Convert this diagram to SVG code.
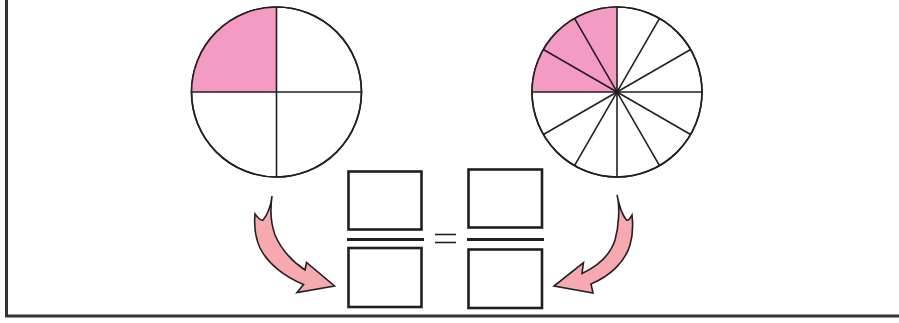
<svg xmlns="http://www.w3.org/2000/svg" width="899" height="323" viewBox="0 0 899 323">
<style>
.c{fill:#fff;stroke:#231f20;stroke-width:1.6}
.p{fill:#f49bc3;stroke:none}
.l{stroke:#231f20;stroke-width:1.6;fill:none}
.b{fill:#fff;stroke:#231f20;stroke-width:2.6}
.f{stroke:#231f20;stroke-width:3}
.e{stroke:#231f20;stroke-width:1.6}
.a{fill:#f6a9ae;stroke:#231f20;stroke-width:1.6;stroke-linejoin:miter}
</style>
<rect width="899" height="323" fill="#fff"/>
<path d="M6.5,0 V316 H899" fill="none" stroke="#333" stroke-width="3"/>
<g id="circle-quarters">
<circle class="c" cx="276.5" cy="92" r="85"/>
<path class="p" d="M276.5,92 H191.5 A85,85 0 0 1 276.5,7 Z"/>
<line class="l" x1="191.5" y1="92" x2="361.5" y2="92"/>
<line class="l" x1="276.5" y1="7" x2="276.5" y2="177"/>
<circle class="c" cx="276.5" cy="92" r="85" fill="none" style="fill:none"/>
</g>
<g id="circle-twelfths">
<circle class="c" cx="617" cy="92" r="85"/>
<path class="p" d="M617,92 H532 A85,85 0 0 1 617,7 Z"/>
<g class="l">
<line x1="532" y1="92" x2="702" y2="92"/>
<line x1="617" y1="7" x2="617" y2="177"/>
<line x1="543.4" y1="49.5" x2="690.6" y2="134.5"/>
<line x1="574.5" y1="18.4" x2="659.5" y2="165.6"/>
<line x1="659.5" y1="18.4" x2="574.5" y2="165.6"/>
<line x1="690.6" y1="49.5" x2="543.4" y2="134.5"/>
</g>
<circle cx="617" cy="92" r="85" style="fill:none;stroke:#231f20;stroke-width:1.6"/>
<circle cx="617" cy="92" r="2" fill="#231f20"/>
</g>
<g id="fraction-left">
<rect class="b" x="348.5" y="171.5" width="73" height="58"/>
<line class="f" x1="347" y1="239.5" x2="424" y2="239.5"/>
<rect class="b" x="348.5" y="248" width="73" height="59"/>
</g>
<g id="equals">
<line class="e" x1="435" y1="234.5" x2="456" y2="234.5"/>
<line class="e" x1="435" y1="242.5" x2="456" y2="242.5"/>
</g>
<g id="fraction-right">
<rect class="b" x="468.5" y="169.5" width="73.5" height="58"/>
<line class="f" x1="467" y1="239.5" x2="544" y2="239.5"/>
<rect class="b" x="468.5" y="249.5" width="73.5" height="58.5"/>
</g>
<g id="connectors">
<path class="a" d="M272,196 C270,210 271,224 275,235 C282,251 293,262 305,270 L306.5,262.5 L334.5,286 L297,292.5 L303.5,284.5 C285,277 268,264 260,248 C255,237 254,225 255,214 C258,218 261,221 263,220 C268,214 271,205 272,196 Z"/>
<path class="a" d="M617,195 C620,206 619,226 615,240 C610,256 598,266 582,273.5 L583.5,262.5 L554,286 L593,293 L591,284 C610,276 625,262 630,245 C633,235 633,224 632,215 C630,219 628,221 626.5,220 C622,215 619,205 617,195 Z"/>
</g>
</svg>
